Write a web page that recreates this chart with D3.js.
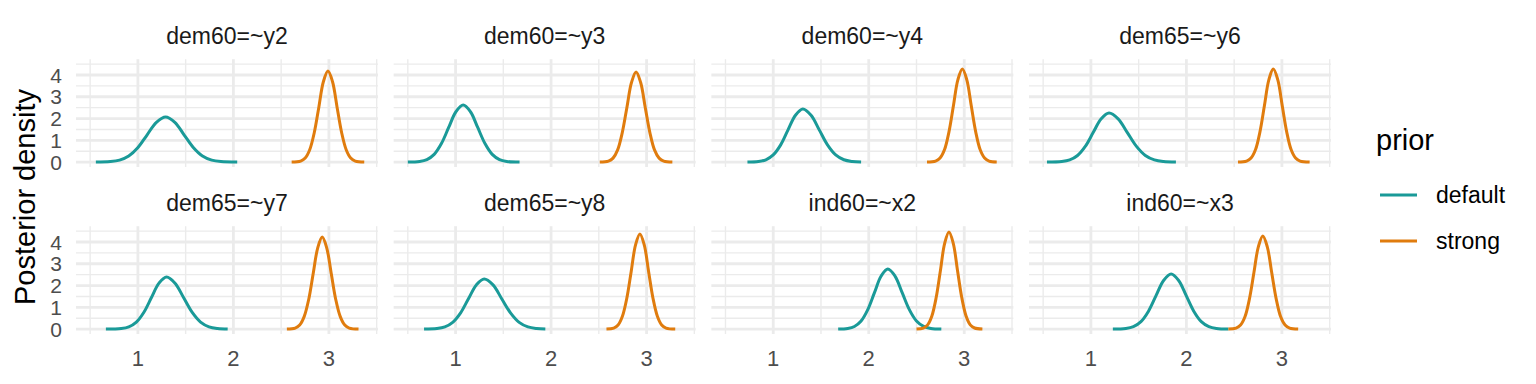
<!DOCTYPE html>
<html>
<head>
<meta charset="utf-8">
<script src="https://cdn.jsdelivr.net/npm/d3@7"></script>
<style>
  body { margin: 0; background: #fff; }
  svg { font-family: "Liberation Sans", Arial, sans-serif; }
</style>
</head>
<body>
<div id="chart"></div>
<script>
// posterior density curves, [value, density]
let y2_default = [[0.56,0.002],[0.711,0.023],[0.808,0.091],[0.904,0.280],[1.001,0.672],[1.097,1.255],[1.194,1.827],[1.29,2.07],[1.387,1.827],[1.483,1.255],[1.580,0.672],[1.676,0.280],[1.773,0.091],[1.869,0.023],[2.04,0.002]];
let y2_strong = [[2.61,0.002],[2.704,0.046],[2.752,0.184],[2.799,0.566],[2.847,1.357],[2.895,2.535],[2.942,3.689],[2.99,4.18],[3.038,3.689],[3.085,2.535],[3.133,1.357],[3.181,0.566],[3.228,0.184],[3.276,0.046],[3.37,0.002]];
let y3_default = [[0.50,0.002],[0.624,0.029],[0.700,0.115],[0.776,0.354],[0.852,0.851],[0.928,1.589],[1.004,2.312],[1.08,2.62],[1.156,2.312],[1.232,1.589],[1.308,0.851],[1.384,0.354],[1.46,0.115],[1.536,0.029],[1.67,0.002]];
let y3_strong = [[2.51,0.002],[2.601,0.046],[2.649,0.182],[2.697,0.560],[2.745,1.344],[2.794,2.511],[2.842,3.654],[2.89,4.14],[2.938,3.654],[2.986,2.511],[3.035,1.344],[3.083,0.560],[3.131,0.182],[3.179,0.046],[3.27,0.002]];
let y4_default = [[0.73,0.002],[0.845,0.027],[0.923,0.107],[1.000,0.330],[1.078,0.792],[1.155,1.480],[1.233,2.153],[1.31,2.44],[1.396,2.153],[1.482,1.480],[1.568,0.792],[1.654,0.330],[1.74,0.107],[1.826,0.027],[1.92,0.002]];
let y4_strong = [[2.61,0.002],[2.70,0.048],[2.747,0.188],[2.794,0.579],[2.84,1.390],[2.887,2.596],[2.933,3.777],[2.98,4.28],[3.027,3.777],[3.073,2.596],[3.12,1.390],[3.166,0.579],[3.213,0.188],[3.26,0.048],[3.34,0.002]];
let y6_default = [[0.54,0.002],[0.695,0.025],[0.778,0.099],[0.86,0.304],[0.943,0.731],[1.025,1.365],[1.108,1.986],[1.19,2.25],[1.285,1.986],[1.38,1.365],[1.475,0.731],[1.57,0.304],[1.665,0.099],[1.76,0.025],[1.89,0.002]];
let y6_strong = [[2.54,0.002],[2.63,0.048],[2.677,0.188],[2.724,0.579],[2.77,1.390],[2.817,2.596],[2.863,3.777],[2.91,4.28],[2.957,3.777],[3.003,2.596],[3.05,1.390],[3.096,0.579],[3.143,0.188],[3.19,0.048],[3.29,0.002]];
let y7_default = [[0.665,0.002],[0.826,0.027],[0.905,0.105],[0.984,0.323],[1.063,0.776],[1.142,1.450],[1.221,2.109],[1.30,2.39],[1.389,2.109],[1.478,1.450],[1.567,0.776],[1.656,0.323],[1.745,0.105],[1.834,0.027],[1.94,0.002]];
let y7_strong = [[2.56,0.002],[2.647,0.047],[2.694,0.186],[2.741,0.572],[2.789,1.373],[2.836,2.565],[2.883,3.733],[2.93,4.23],[2.977,3.733],[3.024,2.565],[3.071,1.373],[3.119,0.572],[3.166,0.186],[3.213,0.047],[3.31,0.002]];
let y8_default = [[0.67,0.002],[0.805,0.026],[0.888,0.101],[0.97,0.311],[1.053,0.747],[1.135,1.395],[1.218,2.030],[1.30,2.30],[1.392,2.030],[1.483,1.395],[1.575,0.747],[1.666,0.311],[1.758,0.101],[1.849,0.026],[1.94,0.002]];
let y8_strong = [[2.58,0.002],[2.656,0.049],[2.702,0.192],[2.747,0.591],[2.793,1.419],[2.839,2.650],[2.884,3.857],[2.93,4.37],[2.976,3.857],[3.021,2.650],[3.067,1.419],[3.113,0.591],[3.158,0.192],[3.204,0.049],[3.30,0.002]];
let x2_default = [[1.68,0.002],[1.78,0.031],[1.85,0.121],[1.92,0.373],[1.99,0.896],[2.06,1.674],[2.13,2.436],[2.20,2.76],[2.275,2.436],[2.35,1.674],[2.425,0.896],[2.50,0.373],[2.575,0.121],[2.65,0.031],[2.76,0.002]];
let x2_strong = [[2.50,0.002],[2.572,0.050],[2.617,0.196],[2.661,0.603],[2.706,1.448],[2.751,2.705],[2.795,3.936],[2.84,4.46],[2.885,3.936],[2.929,2.705],[2.974,1.448],[3.019,0.603],[3.063,0.196],[3.108,0.050],[3.19,0.002]];
let x3_default = [[1.23,0.002],[1.366,0.028],[1.445,0.111],[1.524,0.342],[1.603,0.821],[1.682,1.534],[1.761,2.233],[1.84,2.53],[1.919,2.233],[1.998,1.534],[2.077,0.821],[2.156,0.342],[2.235,0.111],[2.314,0.028],[2.44,0.002]];
let x3_strong = [[2.44,0.002],[2.52,0.048],[2.567,0.188],[2.614,0.579],[2.66,1.390],[2.707,2.596],[2.753,3.777],[2.80,4.28],[2.847,3.777],[2.893,2.596],[2.94,1.390],[2.986,0.579],[3.033,0.188],[3.08,0.048],[3.17,0.002]];

let panelTitles = ["dem60=~y2", "dem60=~y3", "dem60=~y4", "dem65=~y6",
                   "dem65=~y7", "dem65=~y8", "ind60=~x2", "ind60=~x3"];
let defaultCurves = [y2_default, y3_default, y4_default, y6_default, y7_default, y8_default, x2_default, x3_default];
let strongCurves = [y2_strong, y3_strong, y4_strong, y6_strong, y7_strong, y8_strong, x2_strong, x3_strong];
let priors = ["default", "strong"];
let xTicks = [1, 2, 3];
let xMinor = [0.5, 1.5, 2.5, 3.5];
let yTicks = [0, 1, 2, 3, 4];
let yMinor = [0.5, 1.5, 2.5, 3.5, 4.5];

let width = 1536, height = 384;
let panelW = 302, panelH = 107.8;
let panelLeft = 76, panelStep = 317.67;
let rowTop = [59.2, 226.2];

let color = d3.scaleOrdinal().domain(priors).range(["#1a9a98", "#e07c0e"]);

let x = d3.scaleLinear().domain([0.352, 3.514]).range([0, panelW]);
let y = d3.scaleLinear().domain([-0.225, 4.725]).range([panelH, 0]);

let line = d3.line()
  .x(function(d){ return x(d[0]); })
  .y(function(d){ return y(d[1]); })
  .curve(d3.curveCatmullRom);

let svg = d3.select("#chart")
  .append("svg")
  .attr("width", width)
  .attr("height", height);

panelTitles.forEach(function(title, i){
  let col = i % 4, row = Math.floor(i / 4);
  let g = svg.append("g")
    .attr("transform", "translate(" + (panelLeft + col * panelStep) + "," + rowTop[row] + ")");

  //grid, minor first then major
  g.selectAll(".xminor").data(xMinor).enter().append("line")
    .attr("x1", x).attr("x2", x).attr("y1", 0).attr("y2", panelH)
    .style("stroke", "#ebebeb").style("stroke-width", 1.4);
  g.selectAll(".yminor").data(yMinor).enter().append("line")
    .attr("x1", 0).attr("x2", panelW).attr("y1", y).attr("y2", y)
    .style("stroke", "#ebebeb").style("stroke-width", 1.4);
  g.selectAll(".xmajor").data(xTicks).enter().append("line")
    .attr("x1", x).attr("x2", x).attr("y1", 0).attr("y2", panelH)
    .style("stroke", "#ebebeb").style("stroke-width", 2.8);
  g.selectAll(".ymajor").data(yTicks).enter().append("line")
    .attr("x1", 0).attr("x2", panelW).attr("y1", y).attr("y2", y)
    .style("stroke", "#ebebeb").style("stroke-width", 2.8);

  g.append("path")
    .attr("d", line(defaultCurves[i]))
    .style("fill", "none")
    .style("stroke", color("default"))
    .style("stroke-width", 3);
  g.append("path")
    .attr("d", line(strongCurves[i]))
    .style("fill", "none")
    .style("stroke", color("strong"))
    .style("stroke-width", 3);

  //strip title
  g.append("text")
    .attr("x", panelW / 2)
    .attr("y", -15)
    .attr("text-anchor", "middle")
    .style("font-size", "23px")
    .style("fill", "#1a1a1a")
    .text(title);

  if (col === 0) {
    g.selectAll(".ylab").data(yTicks).enter().append("text")
      .attr("x", -14)
      .attr("y", y)
      .attr("dy", "0.36em")
      .attr("text-anchor", "end")
      .style("font-size", "21px")
      .style("fill", "#4d4d4d")
      .text(function(d){ return d; });
  }
  if (row === 1) {
    g.selectAll(".xlab").data(xTicks).enter().append("text")
      .attr("x", x)
      .attr("y", panelH + 24)
      .attr("dy", "0.36em")
      .attr("text-anchor", "middle")
      .style("font-size", "22px")
      .style("fill", "#4d4d4d")
      .text(function(d){ return d; });
  }
});

//axis title
svg.append("text")
  .attr("transform", "translate(25,197) rotate(-90)")
  .attr("text-anchor", "middle")
  .attr("dy", "0.36em")
  .style("font-size", "29px")
  .style("fill", "#000")
  .text("Posterior density");

//legend
let legend = svg.append("g").attr("transform", "translate(1376,0)");
legend.append("text")
  .attr("x", 0).attr("y", 150)
  .style("font-size", "29px")
  .style("fill", "#000")
  .text("prior");
legend.selectAll(".key").data(priors).enter().append("line")
  .attr("x1", 4).attr("x2", 41)
  .attr("y1", function(d, i){ return 195 + i * 46; })
  .attr("y2", function(d, i){ return 195 + i * 46; })
  .style("stroke", function(d){ return color(d); })
  .style("stroke-width", 3);
legend.selectAll(".klab").data(priors).enter().append("text")
  .attr("x", 60)
  .attr("y", function(d, i){ return 195 + i * 46; })
  .attr("dy", "0.36em")
  .style("font-size", "23px")
  .style("fill", "#000")
  .text(function(d){ return d; });
</script>
</body>
</html>
